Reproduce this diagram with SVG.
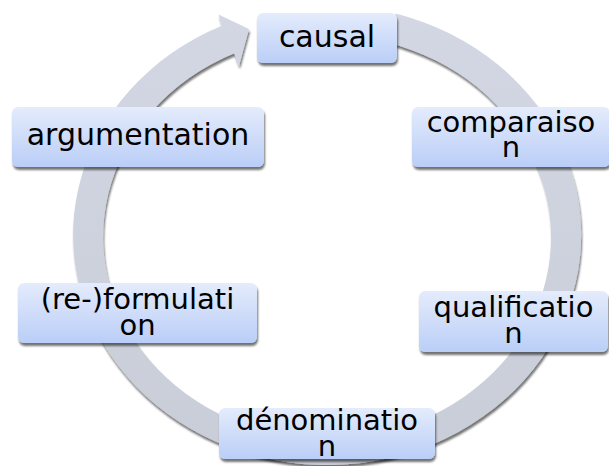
<svg xmlns="http://www.w3.org/2000/svg" width="609" height="466" viewBox="0 0 609 466">
<defs>
<linearGradient id="boxGrad" x1="0" y1="0" x2="0" y2="1">
<stop offset="0" stop-color="#e4ecfc"/>
<stop offset="1" stop-color="#bacef7"/>
</linearGradient>
<linearGradient id="ringGrad" x1="0" y1="0" x2="0" y2="1">
<stop offset="0" stop-color="#d2d7e3"/>
<stop offset="1" stop-color="#c9cdd8"/>
</linearGradient>
<filter id="shadow" x="-10%" y="-10%" width="130%" height="140%">
<feGaussianBlur in="SourceAlpha" stdDeviation="1.2"/>
<feOffset dx="1" dy="3" result="b"/>
<feComponentTransfer><feFuncA type="linear" slope="0.55"/></feComponentTransfer>
<feMerge><feMergeNode/><feMergeNode in="SourceGraphic"/></feMerge>
</filter>
</defs>
<style>
.box{fill:url(#boxGrad);filter:url(#shadow);}
.lbl{font-family:"DejaVu Sans","Liberation Sans",sans-serif;font-size:29px;fill:#000;text-anchor:middle;}
.big{font-size:30px;}
.ring{fill:url(#ringGrad);filter:url(#shadow);}
</style>
<g id="connectors">
<path class="ring" d="M395.6,13.5 A254,230 0 1 1 221.8,25.7 L218.5,14.5 L249,29 L239,66 L234.2,53.2 A224,202 0 1 0 387.5,42.5 Z"/>
</g>
<g id="node-causal">
<rect class="box" x="257" y="13" width="140" height="50" rx="6"/>
<text class="lbl big" x="327" y="47">causal</text>
</g>
<g id="node-comparaison">
<rect class="box" x="412" y="107" width="198" height="60" rx="6"/>
<text class="lbl" x="511" y="132">comparaiso<tspan x="511" y="157">n</tspan></text>
</g>
<g id="node-qualification">
<rect class="box" x="419" y="291" width="189" height="61" rx="6"/>
<text class="lbl" x="513.5" y="317">qualificatio<tspan x="513.5" y="343">n</tspan></text>
</g>
<g id="node-denomination">
<rect class="box" x="219" y="408" width="216" height="51" rx="6"/>
<text class="lbl" x="327" y="430">dénominatio<tspan x="327" y="456">n</tspan></text>
</g>
<g id="node-reformulation">
<rect class="box" x="18" y="283" width="239" height="60" rx="6"/>
<text class="lbl" x="137.5" y="309">(re-)formulati<tspan x="137.5" y="335">on</tspan></text>
</g>
<g id="node-argumentation">
<rect class="box" x="12" y="107" width="252" height="60" rx="6"/>
<text class="lbl big" x="138" y="145">argumentation</text>
</g>
</svg>
